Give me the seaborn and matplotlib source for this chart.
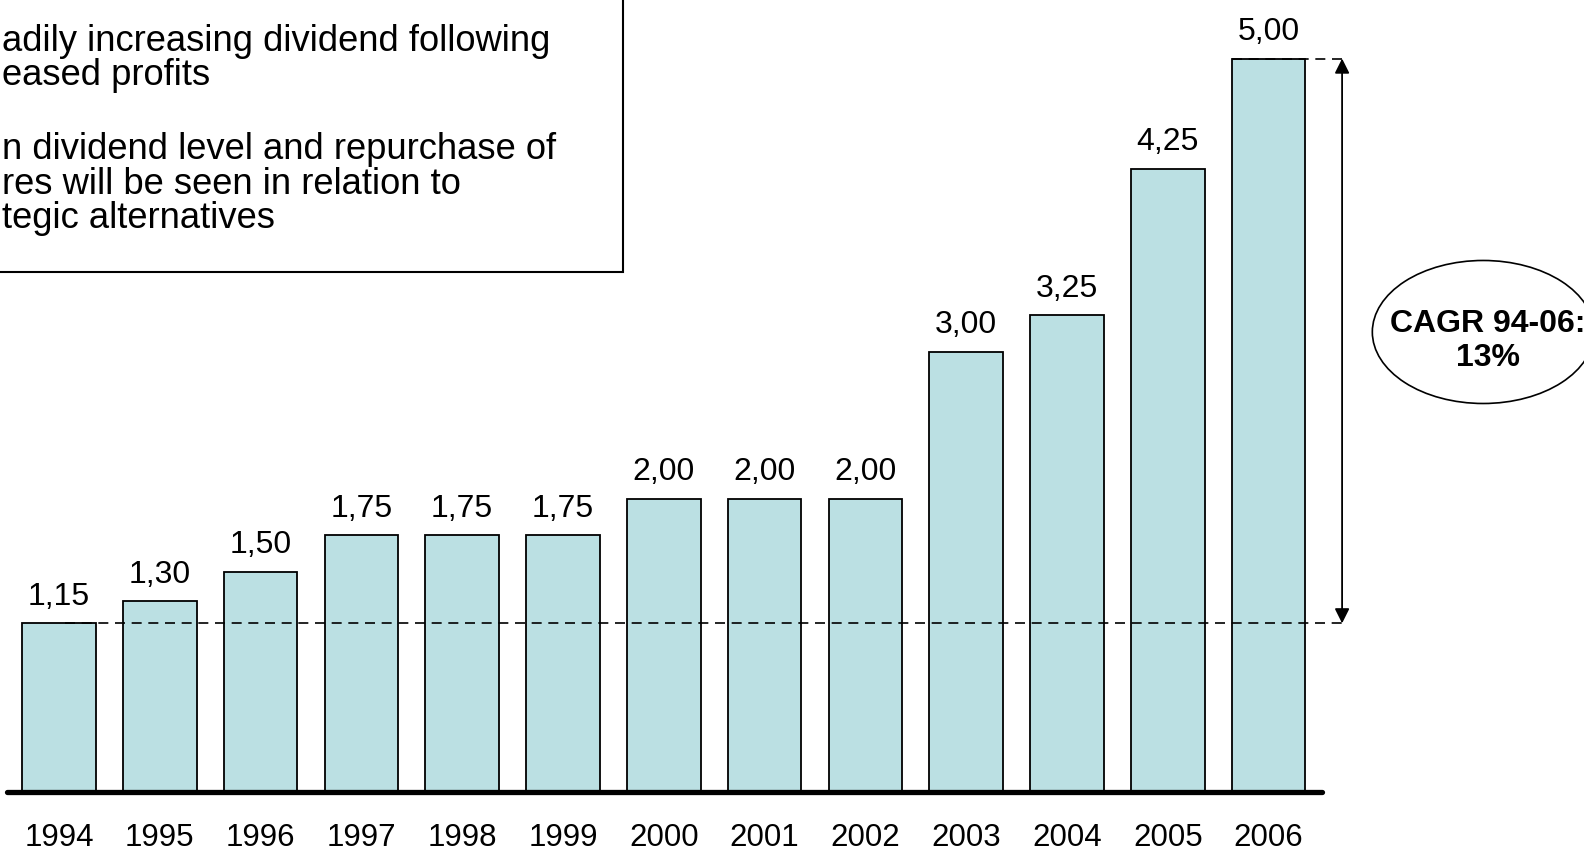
import matplotlib
matplotlib.use('Agg')
import matplotlib.pyplot as plt
import seaborn as sns
from matplotlib.patches import Ellipse, Rectangle

# data
years = ['1994', '1995', '1996', '1997', '1998', '1999', '2000',
         '2001', '2002', '2003', '2004', '2005', '2006']
dividend = [1.15, 1.30, 1.50, 1.75, 1.75, 1.75, 2.00,
            2.00, 2.00, 3.00, 3.25, 4.25, 5.00]
note_lines = ['adily increasing dividend following',
              'eased profits',
              'n dividend level and repurchase of',
              'res will be seen in relation to',
              'tegic alternatives']
cagr_text = 'CAGR 94-06:\n13%'

BAR_COLOR = '#BBE0E3'
BAR_WIDTH = 0.73

sns.set_theme(style='white')
plt.rcParams['font.family'] = ['Liberation Sans', 'DejaVu Sans']
plt.rcParams['text.color'] = 'black'

fig = plt.figure(figsize=(15.84, 8.53), dpi=100)
ax = fig.add_axes([0, 0, 1, 1])

sns.barplot(x=years, y=dividend, color=BAR_COLOR, saturation=1, width=BAR_WIDTH,
            edgecolor='black', linewidth=1.3, ax=ax)

ax.set_xlim(-0.585, 15.13)
ax.set_ylim(-0.409, 5.406)
ax.axis('off')

# value labels with comma decimals
ax.bar_label(ax.containers[0], labels=[f'{v:.2f}'.replace('.', ',') for v in dividend],
             padding=9, fontsize=23, color='black')

# year labels under the thick baseline
for i, yr in enumerate(years):
    ax.text(i, -0.36, yr, ha='center', va='baseline', fontsize=22.5)

# baseline
ax.plot([-0.516, 12.53], [0, 0], color='black', lw=3.8, solid_capstyle='round', zorder=5)

# growth markers
arrow_x = 12.73
ax.plot([0.06, arrow_x], [dividend[0]] * 2, color='black', lw=1.2, dashes=(6, 4), zorder=4)
ax.plot([len(years) - 1 - BAR_WIDTH / 2, arrow_x], [dividend[-1]] * 2,
        color='black', lw=1.2, dashes=(6, 4), zorder=4)
ax.annotate('', xy=(arrow_x, dividend[-1]), xytext=(arrow_x, dividend[0]),
            arrowprops=dict(arrowstyle='<|-|>', color='black', lw=1.3,
                            mutation_scale=22, shrinkA=0, shrinkB=0))

# CAGR bubble
ax.add_patch(Ellipse((14.13, 3.136), 2.20, 0.975, fill=False, ec='black', lw=1.2))
ax.text(14.18, 3.08, cagr_text, ha='center', va='center', fontsize=23,
        fontweight='bold', linespacing=1.2)

# comment box, cut off at the slide edge
fig.add_artist(Rectangle((-0.01, 1 - 273 / 853), 623 / 1584 + 0.01, 0.5,
                         transform=fig.transFigure, fill=False, ec='black', lw=1.5))
baselines = [51, 85, 159, 194, 228]
for line, yb in zip(note_lines, baselines):
    fig.text(2 / 1584, 1 - yb / 853, line, ha='left', va='baseline', fontsize=26.2)

fig.savefig('out.png', dpi=100)
